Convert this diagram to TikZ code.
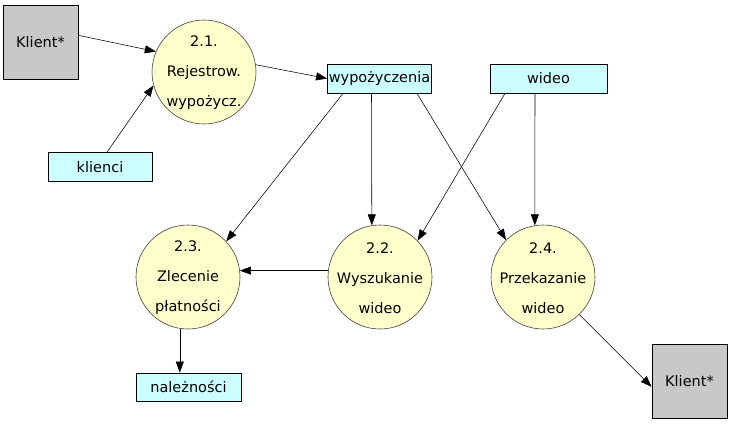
\documentclass[tikz,border=0pt]{standalone}
\usepackage{fontspec}
\setmainfont{DejaVu Sans}
\usetikzlibrary{arrows.meta}

\definecolor{procfill}{HTML}{FFFFCC}
\definecolor{storefill}{HTML}{CCFFFF}
\definecolor{extfill}{HTML}{C8C8C8}

\begin{document}
\begin{tikzpicture}[
    x=1pt, y=-1pt,
    >={Triangle[length=11pt, width=8pt]},
    every node/.style={font=\fontsize{14.5}{30}\selectfont},
    process/.style={circle, draw=black!75, line width=0.6pt, fill=procfill,
      minimum size=104pt, inner sep=0pt},
    proctext/.style={align=center, yshift=-1pt},
    store/.style={rectangle, draw=black, line width=0.8pt, fill=storefill,
      minimum width=104pt, minimum height=29pt, inner sep=0pt},
    external/.style={rectangle, draw=black, line width=0.8pt, fill=extfill,
      minimum width=75pt, minimum height=74pt, inner sep=0pt},
    flow/.style={->, color=black, line width=0.55pt},
  ]
  \useasboundingbox (0,0) rectangle (731,428);

  % terminators
  \node[external] (k1) at (40.5,42)    {Klient*};
  \node[external] (k2) at (689.5,381.5) {Klient*};

  % processes
  \node[process, label={[proctext]center:2.1.\\Rejestrow.\\wypożycz.}]   (c21) at (204,72)  {};
  \node[process, label={[proctext]center:2.3.\\Zlecenie\\płatności}]     (c23) at (188,277) {};
  \node[process, label={[proctext]center:2.2.\\Wyszukanie\\wideo}]       (c22) at (380,277) {};
  \node[process, label={[proctext]center:2.4.\\Przekazanie\\wideo}]      (c24) at (543,277) {};

  % data stores
  \node[store] (wyp) at (379.5,78.5) {wypożyczenia};
  \node[store, minimum width=117pt] (wid) at (548.5,78.5) {wideo};
  \node[store] (kli) at (100,167) {klienci};
  \node[store, minimum width=105pt, minimum height=28pt] (nal) at (188.5,387) {należności};

  \path[flow]
  (k1.10.6)                  edge (c21.157)
  ([xshift=7pt]kli.north)    edge (c21.195)
  (c21.8)                    edge (wyp.west)
  ([xshift=-36.5pt]wyp.south) edge (c23.43)
  ([xshift=-8pt]wyp.south)   edge (c22.99)
  ([xshift=37.5pt]wyp.south) edge (c24.135)
  ([xshift=-43.5pt]wid.south) edge (c22.44)
  ([xshift=-13.5pt]wid.south) edge (c24.99)
  (c22.173)                  edge (c23.7)
  (c23.261)                  edge (c23.261 |- nal.north)
  (c24.314)                  edge (k2.188);
\end{tikzpicture}
\end{document}
